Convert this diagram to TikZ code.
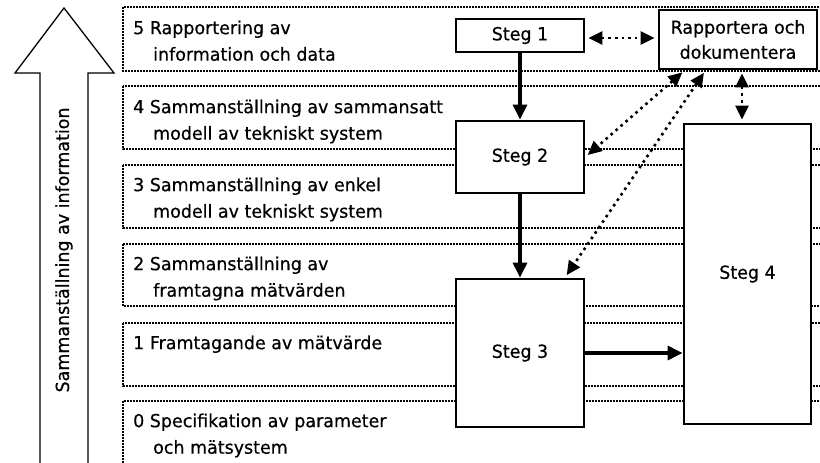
\documentclass[tikz,border=0pt]{standalone}
\usepackage{fontspec}
\setmainfont{DejaVu Sans}[FakeStretch=0.97, FakeBold=0.5]
\usetikzlibrary{arrows.meta}

\tikzset{
    niva/.style={line width=1.5pt, dash pattern=on 2pt off 1pt},
    nivatext/.style={anchor=north west, inner sep=0pt, align=left, font=\fontsize{18}{26.5}\selectfont},
    steg/.style={draw, fill=white, line width=2.8pt, inner sep=0pt, align=center, font=\fontsize{18}{25}\selectfont},
    flode/.style={line width=3.2pt, -{Triangle[length=15pt, width=14pt]}},
    rapport/.style={line width=2.6pt, dash pattern=on 2.6pt off 4pt, shorten <=3pt, shorten >=3pt,
        {Triangle[length=14pt, width=13pt]}-{Triangle[length=14pt, width=13pt]}},
}

% stod for forsta raden i nivatexterna
\def\forsta{\rule{0pt}{15pt}}

\begin{document}
\begin{tikzpicture}[x=1pt, y=-1pt]

    \clip (0,0) rectangle (820,463);

    % -- Nivaer: prickade band --
    \foreach \topp/\botten in {7/71, 86/149, 165/228, 244/306, 323/386, 401/480}
        \draw[niva] (123,\topp) rectangle (830,\botten);

    \node[nivatext] (niva5) at (133,19) {\forsta 5 Rapportering av\\\hspace*{20pt}information och data};
    \node[nivatext] (niva4) at (133,98) {\forsta 4 Sammanst\"allning av sammansatt\\\hspace*{20pt}modell av tekniskt system};
    \node[nivatext] (niva3) at (133,176) {\forsta 3 Sammanst\"allning av enkel\\\hspace*{20pt}modell av tekniskt system};
    \node[nivatext] (niva2) at (133,255) {\forsta 2 Sammanst\"allning av\\\hspace*{20pt}framtagna m\"atv\"arden};
    \node[nivatext] (niva1) at (133,334) {\forsta 1 Framtagande av m\"atv\"arde};
    \node[nivatext] (niva0) at (133,412) {\forsta 0 Specifikation av parameter\\\hspace*{20pt}och m\"atsystem};

    % -- Stor pil till vanster --
    \draw[line width=1.3pt, fill=white] (40,480) -- (40,73) -- (15,73) -- (64,8)
        -- (114,73) -- (88,73) -- (88,480);
    \node[rotate=90, font=\fontsize{18}{20}\selectfont] (pil) at (64,250) {Sammanst\"allning av information};

    % -- Steg --
    \node[steg, minimum width=128pt, minimum height=33pt] (steg1) at (520,35.5) {\raisebox{-2pt}{Steg 1}};
    \node[steg, minimum width=128pt, minimum height=72pt] (steg2) at (520,157) {Steg 2};
    \node[steg, minimum width=128pt, minimum height=148pt] (steg3) at (520,353) {Steg 3};
    \node[steg, minimum width=127pt, minimum height=300pt] (steg4) at (747.5,274) {Steg 4};
    \node[steg, minimum width=158pt, minimum height=59pt] (rapp) at (738,39.5) {Rapportera och\\dokumentera};

    % -- Flode mellan stegen --
    \draw[flode] (steg1) -- (steg2);
    \draw[flode] (steg2) -- (steg3);
    \draw[flode] (steg3.east) -- (steg3.east -| steg4.west);

    % -- Rapportering (prickade dubbelpilar) --
    \draw[rapport] (steg1.east |- 0,38) -- (rapp.west |- 0,38);
    \draw[rapport] ([xshift=27pt]rapp.south west) -- (steg2.east);
    \draw[rapport] ([xshift=48pt]rapp.south west) -- ([xshift=45pt]steg3.north);
    \draw[rapport] ([xshift=4pt]rapp.south) -- ([xshift=4pt]rapp.south |- steg4.north);

\end{tikzpicture}
\end{document}
